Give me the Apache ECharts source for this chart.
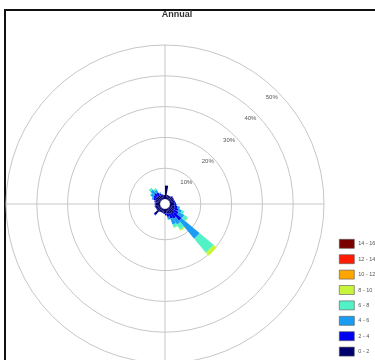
<!DOCTYPE html>
<html>
<head>
<meta charset="utf-8">
<title>Annual wind rose</title>
<script src="https://cdn.jsdelivr.net/npm/echarts@6/dist/echarts.min.js"></script>
<style>
  html, body { margin: 0; padding: 0; background: #fff; }
  #frame {
    position: absolute; left: 4px; top: 9px; width: 420px; height: 420px;
    border-top: 2px solid #111; border-left: 2px solid #111;
  }
  #chart { position: absolute; left: 0; top: 0; width: 375px; height: 360px; }
</style>
</head>
<body>
<div id="frame"></div>
<div id="chart"></div>
<script>
// direction bins (deg, clockwise from north), 10 deg wide
const directions = [
  5, 15, 25, 35, 45, 55, 65, 75, 85, 95, 105, 115,
  125, 135, 145, 155, 165, 175, 185, 195, 205, 215, 225, 235,
  245, 255, 265, 275, 285, 295, 305, 315, 325, 335, 345, 355,
];

// wind speed classes (m/s)
const speedClasses = ['0 - 2', '2 - 4', '4 - 6', '6 - 8', '8 - 10', '10 - 12', '12 - 14', '14 - 16'];
const classColors = ['#00006e', '#0000f0', '#1a9cf2', '#52f2c6', '#c6f53a', '#ffa500', '#ff1c00', '#7a0000'];

// frequency (%) per direction for each class
const speed0to2 = [
  4.4, 1.4, 1.3, 1.4, 1.6, 1.5, 1.4, 1.4, 1.5, 1.5, 1.6, 1.7,
  1.8, 2.4, 1.9, 1.8, 1.6, 1.5, 1.4, 1.3, 1.3, 1.4, 2.9, 1.5,
  1.5, 1.6, 1.5, 1.4, 1.5, 1.6, 1.8, 1.8, 1.7, 1.5, 1.4, 1.3,
];
const speed2to4 = [
  0, 0, 0, 0, 0.2, 0.2, 0.2, 0.3, 0.4, 0.6, 1.0, 1.3,
  1.7, 3.0, 2.0, 1.7, 1.1, 0.5, 0.2, 0.1, 0, 0.1, 0.3, 0.1,
  0.1, 0.2, 0.2, 0.3, 0.4, 0.8, 1.0, 1.2, 1.0, 0.6, 0.2, 0,
];
const speed4to6 = [
  0, 0, 0, 0, 0, 0, 0, 0, 0, 0.2, 0.7, 1.2,
  2.1, 7.7, 2.2, 2.0, 0.8, 0.2, 0, 0, 0, 0, 0, 0,
  0, 0, 0, 0, 0, 0.6, 1.0, 1.5, 1.0, 0.3, 0, 0,
];
const speed6to8 = [
  0, 0, 0, 0, 0, 0, 0, 0, 0, 0, 0, 0.8,
  1.3, 5.9, 1.9, 1.0, 0.2, 0, 0, 0, 0, 0, 0, 0,
  0, 0, 0, 0, 0, 0, 0.3, 0.8, 0.6, 0, 0, 0,
];
const speed8to10 = [
  0, 0, 0, 0, 0, 0, 0, 0, 0, 0, 0, 0,
  0.2, 1.3, 0.4, 0.2, 0, 0, 0, 0, 0, 0, 0, 0,
  0, 0, 0, 0, 0, 0, 0, 0, 0, 0, 0, 0,
];
const speed10to12 = new Array(36).fill(0);
const speed12to14 = new Array(36).fill(0);
const speed14to16 = new Array(36).fill(0);

const classValues = [speed0to2, speed2to4, speed4to6, speed6to8, speed8to10, speed10to12, speed12to14, speed14to16];

// ring labels
const ringTicks = [10, 20, 30, 40, 50];

const center = [165, 204];
const gridGray = '#c6c6c6';

const chart = echarts.init(document.getElementById('chart'));

const option = {
  animation: false,
  title: {
    text: 'Annual',
    left: 177,
    top: 10,
    textAlign: 'center',
    padding: 0,
    textStyle: { fontSize: 9, fontWeight: 'bold', color: '#333', fontFamily: 'Liberation Sans, Arial' },
  },
  legend: {
    orient: 'vertical',
    left: 339,
    top: 239,
    itemWidth: 15,
    itemHeight: 9,
    itemGap: 5.8,
    icon: 'rect',
    padding: 0,
    selectedMode: false,
    data: speedClasses.slice().reverse(),
    itemStyle: { borderColor: '#555', borderWidth: 0.6 },
    textStyle: { fontSize: 5.5, color: '#555', fontFamily: 'Liberation Sans, Arial', padding: [0, 0, 0, -1] },
  },
  polar: [
    { center: center, radius: [5, 159] },
    { center: center, radius: [5, 159] },
    { center: center, radius: [0, 151] },
  ],
  angleAxis: [
    {
      polarIndex: 0,
      type: 'value',
      min: 0,
      max: 360,
      interval: 90,
      startAngle: 90,
      clockwise: true,
      axisLine: { show: false },
      axisTick: { show: false },
      axisLabel: { show: false },
      splitLine: { show: true, lineStyle: { color: gridGray, width: 1 } },
    },
    {
      polarIndex: 1,
      type: 'category',
      data: directions,
      startAngle: 90,
      clockwise: true,
      show: false,
    },
    {
      polarIndex: 2,
      type: 'value',
      min: 0,
      max: 360,
      startAngle: 45,
      show: false,
    },
  ],
  radiusAxis: [
    {
      polarIndex: 0,
      min: 0,
      max: 50,
      interval: 10,
      axisLine: { show: false },
      axisTick: { show: false },
      axisLabel: { show: false },
      splitLine: { show: true, lineStyle: { color: gridGray, width: 1 } },
    },
    {
      polarIndex: 1,
      min: 0,
      max: 50,
      show: false,
    },
    {
      polarIndex: 2,
      min: 0,
      max: 50,
      interval: 10,
      axisLine: { show: false },
      axisTick: { show: false },
      splitLine: { show: false },
      axisLabel: {
        show: true,
        margin: 0,
        showMinLabel: false,
        align: 'center',
        verticalAlign: 'middle',
        fontSize: 6,
        color: '#555',
        fontFamily: 'Liberation Sans, Arial',
        formatter: (v) => (ringTicks.includes(v) ? v + '%' : ''),
      },
    },
  ],
  series: speedClasses.map((name, k) => ({
    name: name,
    type: 'bar',
    coordinateSystem: 'polar',
    polarIndex: 1,
    stack: 'rose',
    barCategoryGap: '0%',
    data: classValues[k],
    itemStyle: { color: classColors[k] },
  })),
};

chart.setOption(option);
</script>
</body>
</html>
